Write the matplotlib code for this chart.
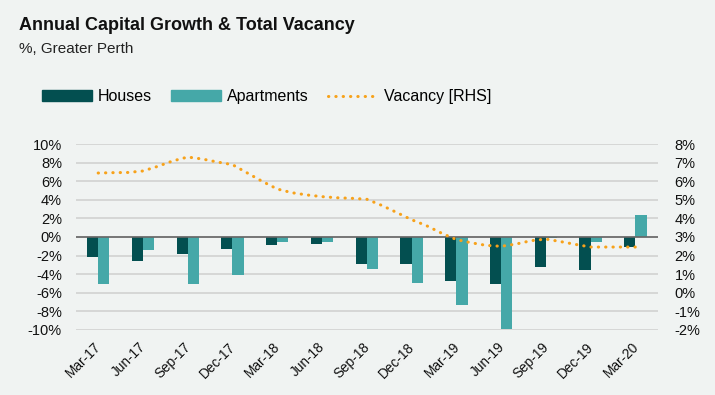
import numpy as np
import matplotlib.pyplot as plt
import matplotlib.transforms as mtrans
from matplotlib.patches import Patch
from matplotlib.lines import Line2D

quarters = ['Mar-17', 'Jun-17', 'Sep-17', 'Dec-17', 'Mar-18', 'Jun-18', 'Sep-18',
            'Dec-18', 'Mar-19', 'Jun-19', 'Sep-19', 'Dec-19', 'Mar-20']
houses = [-2.15, -2.55, -1.8, -1.25, -0.9, -0.7, -2.9, -2.9, -4.7, -5.1, -3.25, -3.6, -1.05]
apartments = [-5.1, -1.45, -5.1, -4.05, -0.55, -0.55, -3.45, -4.95, -7.3, -9.9, -0.1, -0.5, 2.4]

# monthly vacancy, Mar-17 .. Mar-20
vacancy = [6.44, 6.46, 6.47, 6.55, 6.80, 7.09, 7.30, 7.19, 7.03, 6.89, 6.44, 5.99,
           5.58, 5.38, 5.26, 5.17, 5.11, 5.08, 5.03, 4.70, 4.32, 3.93, 3.61, 3.21,
           2.86, 2.69, 2.55, 2.50, 2.62, 2.80, 2.89, 2.75, 2.60, 2.46, 2.46, 2.46, 2.46]

bg = '#f0f3f2'
c_house = '#034f50'
c_apt = '#45a8a8'
c_vac = '#f7a21b'
dots = (0, (0.1, 2.3))

plt.rcParams['font.family'] = ['Liberation Sans', 'DejaVu Sans']

fig = plt.figure(figsize=(7.15, 3.95), dpi=100, facecolor=bg)
ax = fig.add_axes([0.106, 0.1646, 0.814, 0.4708], facecolor=bg)

x = np.arange(len(quarters))
w = 0.25
ax.bar(x - w / 2, houses, w, color=c_house, zorder=3)
ax.bar(x + w / 2, apartments, w, color=c_apt, zorder=3)
ax.axhline(0, color='#666666', lw=1.2, zorder=4)

ax.set_xlim(-0.5, len(quarters) - 0.5)
ax.set_ylim(-10, 10)
ax.set_yticks(np.arange(-10, 11, 2))
ax.set_yticklabels(['%d%%' % v for v in range(-10, 11, 2)])
ax.yaxis.grid(True, color='#d4d4d4', lw=1.3, zorder=0)
ax.set_xticks(x)
ax.set_xticklabels(quarters, rotation=45, ha='right', rotation_mode='anchor')
ax.tick_params(length=0, labelsize=10.5, colors='#111111')
ax.tick_params(axis='x', labelsize=9.8, pad=7)
ax.tick_params(axis='y', pad=10)
shift = mtrans.ScaledTranslation(-4 / 100, 0, fig.dpi_scale_trans)
for lab in ax.get_xticklabels():
    lab.set_transform(lab.get_transform() + shift)
for s in ax.spines.values():
    s.set_visible(False)

ax2 = ax.twinx()
mx = np.arange(len(vacancy)) / 3.0
ax2.plot(mx, vacancy, color=c_vac, lw=2.2, linestyle=dots,
         dash_capstyle='round', zorder=5)
ax2.set_ylim(-2, 8)
ax2.set_yticks(np.arange(-2, 9, 1))
ax2.set_yticklabels(['%d%%' % v for v in range(-2, 9)])
ax2.tick_params(length=0, labelsize=10.5, colors='#111111', pad=12)
for s in ax2.spines.values():
    s.set_visible(False)

fig.text(0.027, 0.925, 'Annual Capital Growth & Total Vacancy', fontsize=13,
         fontweight='bold', color='#111111', va='baseline')
fig.text(0.027, 0.865, '%, Greater Perth', fontsize=11, color='#222222', va='baseline')

handles = [Patch(color=c_house), Patch(color=c_apt),
           Line2D([], [], color=c_vac, lw=2.2, linestyle=dots, dash_capstyle='round')]
fig.legend(handles, ['Houses', 'Apartments', 'Vacancy [RHS]'], ncol=3,
           loc='center left', bbox_to_anchor=(0.059, 0.755), frameon=False,
           fontsize=11.5, handlelength=3.1, handleheight=0.62, handletextpad=0.4,
           columnspacing=1.2, borderpad=0, borderaxespad=0)

fig.savefig('out.png', dpi=100, facecolor=bg)
